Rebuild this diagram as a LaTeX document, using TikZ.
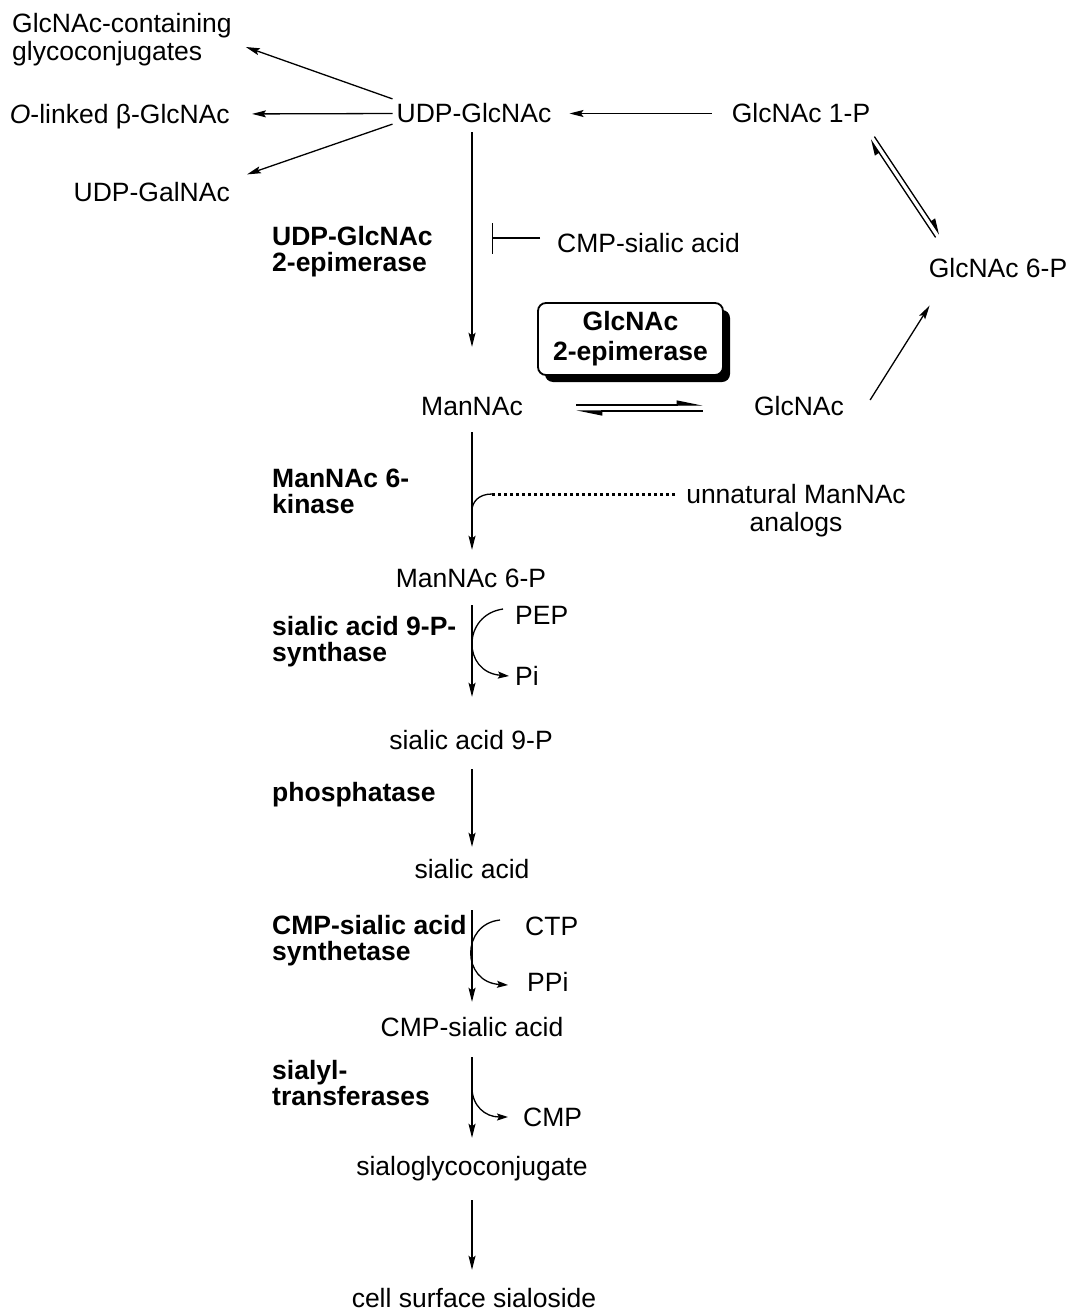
\documentclass[tikz,border=0pt]{standalone}
\usepackage{fontspec}
\setmainfont{Liberation Sans}
\usetikzlibrary{arrows.meta,shadows}

\begin{document}
\begin{tikzpicture}[x=1pt,y=-1pt,
  lbl/.style={inner sep=0pt,text height=19.9pt,text depth=0.9pt,font=\fontsize{26.5}{28}\selectfont},
  lbltwo/.style={inner sep=0pt,align=left,font=\fontsize{26.5}{28}\selectfont},
  enz/.style={inner sep=0pt,align=left,anchor=west,font=\fontsize{26.5}{26}\selectfont\bfseries},
  epibox/.style={draw,line width=1.8pt,rounded corners=8pt,fill=white,minimum width=185pt,minimum height=72pt,
    inner sep=0pt,align=center,font=\fontsize{26.5}{30}\selectfont\bfseries,
    drop shadow={shadow xshift=7pt,shadow yshift=-7pt,fill=black,opacity=1}},
  arr/.style={-{Stealth[length=14pt,width=7pt,inset=2.5pt]},line width=1.3pt},
  sarr/.style={-{Stealth[length=11pt,width=7pt,inset=2pt]},line width=1.3pt},
  harp/.style={-{Stealth[left,length=14pt,width=10pt,inset=0pt]},line width=1.3pt},
  eqharp/.style={-{Stealth[left,length=23pt,width=9pt,inset=0pt]},line width=1.3pt},
  inhib/.style={-{Bar[width=31pt]},line width=1.3pt},
  dotline/.style={line width=3pt,dash pattern=on 3pt off 3pt}]
\useasboundingbox (0,0) rectangle (1074,1311);
\node[lbltwo,anchor=west] (gcc) at (12,40) {GlcNAc-containing\\glycoconjugates};
\node[lbl,anchor=east] (olinked) at (230,114) {\textit{O}-linked β-GlcNAc};
\node[lbl,anchor=east] (galnac) at (230,192) {UDP-GalNAc};
\node[lbl] (udp) at (474,113.5) {UDP-GlcNAc};
\node[lbl] (glc1p) at (801,113.5) {GlcNAc 1-P};
\node[lbl] (glc6p) at (998,268) {GlcNAc 6-P};
\node[enz] (epiudp) at (272,252) {UDP-GlcNAc\\2-epimerase};
\node[lbl,anchor=west] (cmpinh) at (557,243) {CMP-sialic acid};
\node[epibox] (epiglc) at (630.5,339) {GlcNAc\\2-epimerase};
\node[lbl] (mannac) at (472,406) {ManNAc};
\node[lbl] (glcnac) at (799,406) {GlcNAc};
\node[enz] (kinase) at (272,491.5) {ManNAc 6-\\kinase};
\node[lbltwo,align=center] (unnat) at (796,511) {unnatural ManNAc\\analogs};
\node[lbl] (man6p) at (471,578) {ManNAc 6-P};
\node[enz] (synthase) at (272,642) {sialic acid 9-P-\\synthase};
\node[lbl,anchor=west] (pep) at (515,615) {PEP};
\node[lbl,anchor=west] (pi) at (515,676) {Pi};
\node[lbl] (sia9p) at (471,740) {sialic acid 9-P};
\node[enz] (phos) at (272,794.5) {phosphatase};
\node[lbl] (sia) at (472,869) {sialic acid};
\node[enz] (synthetase) at (272,941) {CMP-sialic acid\\synthetase};
\node[lbl,anchor=west] (ctp) at (525,926) {CTP};
\node[lbl,anchor=west] (ppi) at (527,982) {PPi};
\node[lbl] (cmpsia) at (472,1027) {CMP-sialic acid};
\node[enz] (sialyl) at (272,1083) {sialyl-\\transferases};
\node[lbl,anchor=west] (cmp) at (523,1117) {CMP};
\node[lbl] (sgc) at (472,1166) {sialoglycoconjugate};
\node[lbl] (cell) at (474,1297.5) {cell surface sialoside};
\coordinate (block) at (492,238);
\coordinate (join) at (492,494);
\draw[arr] ([shift={(-4,-4)}]udp.north west) -- ([shift={(14,7)}]gcc.east);
\draw[arr,shorten <=4pt,shorten >=22pt] (udp.west) -- (olinked.east);
\draw[arr] ([xshift=-4pt]udp.south west) -- ([shift={(17,-7)}]galnac.north east);
\draw[arr,shorten <=20pt,shorten >=18pt] (glc1p.west) -- (udp.east);
\draw[harp] ([shift={(7,-20)}]glc6p.north west) -- ([shift={(0,15.5)}]glc1p.south east);
\draw[harp] ([shift={(4,12.5)}]glc1p.south east) -- ([shift={(11,-23)}]glc6p.north west);
\draw[arr] ([shift={(26,-6)}]glcnac.east) -- ([shift={(1,27)}]glc6p.south west);
\draw[inhib] ([shift={(-17,-5)}]cmpinh.west) -- (block);
\draw[eqharp,shorten <=53pt,shorten >=51pt] ([yshift=1pt]mannac.east) -- ([yshift=1pt]glcnac.west);
\draw[eqharp,shorten <=51pt,shorten >=53pt] ([yshift=-5pt]glcnac.west) -- ([yshift=-5pt]mannac.east);
\draw[arr,shorten <=8pt,shorten >=48.6pt] (udp.south -| mannac.north) -- (mannac.north);
\draw[arr,shorten <=15.6pt,shorten >=17.6pt] (mannac.south) -- (mannac.south |- man6p.north);
\draw[dotline] ([shift={(-11,-17)}]unnat.west) -- (join);
\draw[line width=1.3pt] (join) .. controls +(-14,0) and +(0,-8) .. ([yshift=-94pt]mannac.south);
\draw[arr,shorten <=16.6pt,shorten >=32.6pt] (man6p.south -| mannac.south) -- (mannac.south |- sia9p.north);
\draw[sarr] ([shift={(-12,-6)}]pep.west) .. controls +(-41,6) and +(-47,-4) .. ([xshift=-6pt]pi.west);
\draw[arr,shorten <=18.6pt,shorten >=11.6pt] (sia9p.south -| sia.north) -- (sia.north);
\draw[arr,shorten <=30.6pt,shorten >=14.6pt] (sia.south) -- (cmpsia.north);
\draw[sarr] ([shift={(-25,-6)}]ctp.west) .. controls +(-39,4) and +(-47,-3) .. ([shift={(-19,3)}]ppi.west);
\draw[arr,shorten <=19.6pt,shorten >=17.6pt] (cmpsia.south) -- (sgc.north);
\draw[sarr] ([yshift=-50pt]cmpsia.south) .. controls +(0,18) and +(-23,0) .. ([xshift=-15pt]cmp.west);
\draw[arr,shorten <=23.6pt,shorten >=17.1pt] (sgc.south) -- (sgc.south |- cell.north);
\end{tikzpicture}
\end{document}
